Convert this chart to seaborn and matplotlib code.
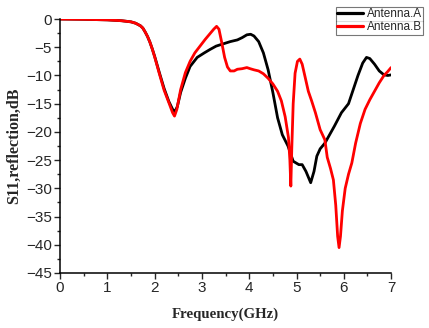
import pandas as pd
import seaborn as sns
import matplotlib.pyplot as plt
from matplotlib.lines import Line2D

# S11 curves
freq_a = [0, 0.5, 1.0, 1.3, 1.5, 1.6, 1.7, 1.75, 1.8, 1.85, 1.9, 1.95, 2.0, 2.1, 2.2,
          2.3, 2.38, 2.43, 2.48, 2.55, 2.65, 2.75, 2.9, 3.05, 3.17, 3.3, 3.45, 3.6,
          3.75, 3.85, 3.95, 4.03, 4.1, 4.2, 4.3, 4.4, 4.5, 4.6, 4.7, 4.82, 4.93, 5.05,
          5.12, 5.2, 5.3, 5.37, 5.43, 5.5, 5.6, 5.7, 5.8, 5.95, 6.1, 6.2, 6.3, 6.4,
          6.48, 6.55, 6.65, 6.75, 6.85, 6.93, 7.0]
s11_a = [0, -0.05, -0.15, -0.3, -0.5, -0.75, -1.2, -1.6, -2.3, -3.1, -4.1, -5.3,
         -6.6, -9.5, -12.3, -14.6, -16.0, -16.4, -15.5, -13.0, -10.5, -8.4, -6.8, -6.0,
         -5.4, -4.8, -4.4, -4.0, -3.7, -3.3, -2.8, -2.7, -3.0, -4.0, -6.0, -9.0, -13.0,
         -17.5, -20.5, -22.5, -25.2, -25.8, -25.8, -27.0, -29.0, -27.0, -24.3, -23.0,
         -22.0, -20.5, -19.0, -16.6, -15.0, -12.5, -10.0, -7.8, -6.8, -7.0, -8.0, -9.2,
         -9.9, -10.0, -9.9]

freq_b = [0, 0.5, 1.0, 1.3, 1.5, 1.6, 1.7, 1.75, 1.8, 1.85, 1.9, 1.95, 2.0, 2.1, 2.2,
          2.3, 2.38, 2.42, 2.47, 2.55, 2.65, 2.75, 2.85, 2.96, 3.07, 3.17, 3.25, 3.31,
          3.36, 3.42, 3.48, 3.54, 3.6, 3.68, 3.75, 3.85, 3.95, 4.02, 4.1, 4.2, 4.3, 4.4,
          4.5, 4.6, 4.68, 4.76, 4.83, 4.86, 4.88, 4.9, 4.93, 4.97, 5.02, 5.07, 5.12,
          5.18, 5.25, 5.32, 5.4, 5.5, 5.6, 5.65, 5.72, 5.78, 5.83, 5.87, 5.9, 5.93,
          5.97, 6.03, 6.1, 6.17, 6.25, 6.35, 6.45, 6.55, 6.65, 6.75, 6.85, 6.93, 7.0]
s11_b = [0, -0.05, -0.15, -0.3, -0.5, -0.75, -1.2, -1.6, -2.3, -3.1, -4.1, -5.3,
         -6.7, -9.7, -12.6, -14.8, -16.6, -17.2, -16.0, -12.5, -9.5, -7.5, -6.0, -4.8,
         -3.6, -2.6, -1.8, -1.3, -1.8, -4.2, -6.8, -8.5, -9.2, -9.2, -8.9, -8.8, -8.6,
         -8.8, -9.0, -9.2, -9.7, -10.5, -11.5, -12.8, -14.5, -17.3, -21.0, -25.0, -29.6,
         -23.0, -15.0, -9.6, -7.5, -7.1, -8.0, -10.2, -12.8, -14.5, -16.6, -19.6, -21.4,
         -24.5, -26.5, -28.5, -33.0, -38.5, -40.5, -38.5, -34.0, -30.0, -27.5, -25.5,
         -22.0, -18.5, -16.0, -14.3, -12.8, -11.3, -10.0, -9.3, -8.6]

df = pd.concat([
    pd.DataFrame({'Frequency': freq_a, 'S11': s11_a, 'Antenna': 'Antenna.A'}),
    pd.DataFrame({'Frequency': freq_b, 'S11': s11_b, 'Antenna': 'Antenna.B'}),
])

sns.set_style('ticks')
plt.rcParams['font.family'] = ['Liberation Sans', 'DejaVu Sans']

fig = plt.figure(figsize=(4.29, 3.28), dpi=100)
ax = fig.add_axes([0.14, 0.1677, 0.7716, 0.7743])

sns.lineplot(data=df, x='Frequency', y='S11', hue='Antenna',
             palette={'Antenna.A': 'black', 'Antenna.B': 'red'},
             linewidth=2, sort=False, legend=False, ax=ax)

ax.set_xlim(0, 7)
ax.set_ylim(-45, 0)
ax.set_xticks(range(0, 8))
ax.set_yticks(range(-45, 1, 5))
ax.set_xticks([i + 0.5 for i in range(7)], minor=True)
ax.set_yticks([-42.5 + 5 * i for i in range(9)], minor=True)
ax.tick_params(which='major', direction='out', length=4, width=1, labelsize=11, pad=2)
ax.tick_params(which='minor', direction='out', length=2, width=1)
sns.despine(ax=ax)
for s in ['left', 'bottom']:
    ax.spines[s].set_linewidth(1.1)
    ax.spines[s].set_color('black')

ax.set_xlabel('Frequency(GHz)', family='Liberation Serif', fontweight='bold',
              fontsize=10.7, labelpad=9)
ax.set_ylabel('S11,reflection,dB', family='Liberation Serif', fontweight='bold',
              fontsize=11.5, labelpad=3)

handles = [Line2D([], [], color='black', lw=2.3), Line2D([], [], color='red', lw=2.3)]
leg = fig.legend(handles, ['Antenna.A', 'Antenna.B'], loc='upper right',
                 bbox_to_anchor=(423 / 429, 1 - 7 / 328), fontsize=8.5,
                 frameon=True, fancybox=False, handlelength=2.2, handletextpad=0.3,
                 borderpad=0.1, labelspacing=0.1, borderaxespad=0)
leg.get_frame().set_edgecolor('#555555')
leg.get_frame().set_linewidth(0.8)

fig.canvas.draw()
bb = leg.get_window_extent()
ymid = (bb.y0 + bb.y1) / 2
fig.add_artist(Line2D([bb.x0 / 429, bb.x1 / 429], [ymid / 328, ymid / 328],
                      color='#555555', lw=0.8, transform=fig.transFigure))

fig.savefig('out.png', dpi=100)
